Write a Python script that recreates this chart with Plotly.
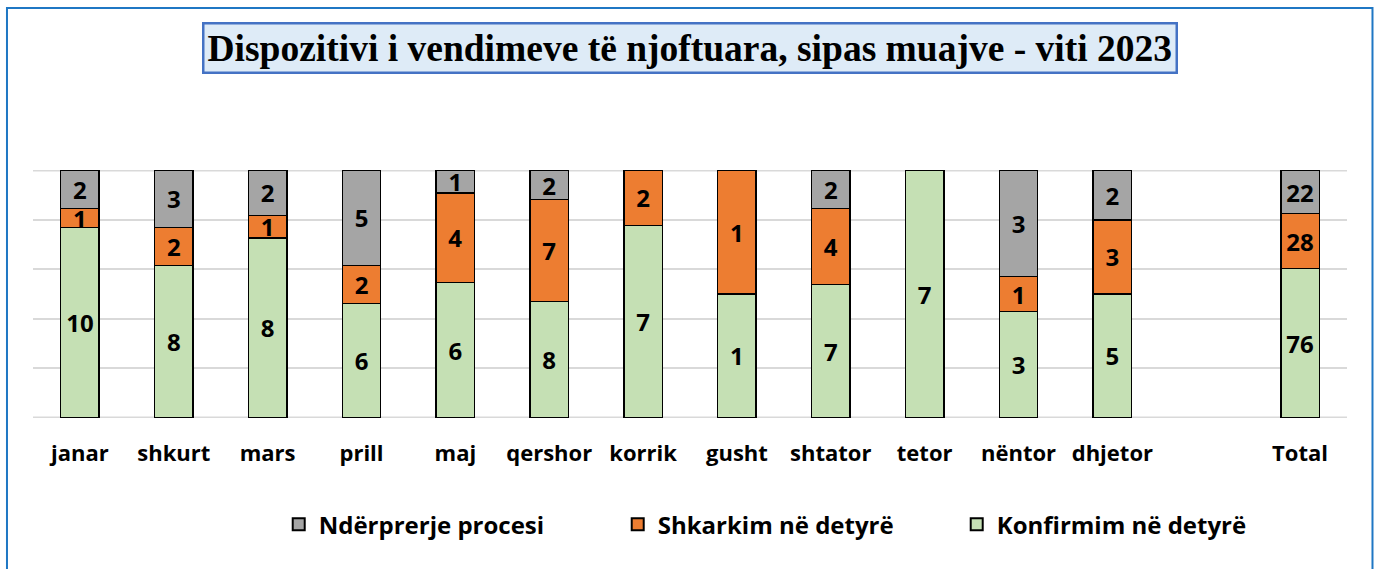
import plotly.graph_objects as go

categories = ["janar", "shkurt", "mars", "prill", "maj", "qershor", "korrik",
              "gusht", "shtator", "tetor", "nëntor", "dhjetor", " ", "Total"]
konfirmim = [10, 8, 8, 6, 6, 8, 7, 1, 7, 7, 3, 5, None, 76]
shkarkim = [1, 2, 1, 2, 4, 7, 2, 1, 4, 0, 1, 3, None, 28]
nderprerje = [2, 3, 2, 5, 1, 2, 0, 0, 2, 0, 3, 2, None, 22]

series = [
    ("Konfirmim në detyrë", konfirmim, "#C5E0B4"),
    ("Shkarkim në detyrë", shkarkim, "#ED7D31"),
    ("Ndërprerje procesi", nderprerje, "#A5A5A5"),
]

LBL_FONT = "'Open Sans', Lato, sans-serif"

fig = go.Figure()
for name, vals, color in series:
    fig.add_trace(go.Bar(
        x=categories, y=vals, name=name,
        marker=dict(color=color, line=dict(color="#000000", width=1.4)),
        text=[("" if (v is None or v == 0) else str(v)) for v in vals],
        textposition="inside", insidetextanchor="middle",
        textangle=0, constraintext="none",
        textfont=dict(family=LBL_FONT, size=24, color="#000000", weight="bold"),
        hoverinfo="skip",
    ))

fig.update_layout(
    barmode="stack", barnorm="percent", bargap=0.59,
    width=1377, height=569,
    margin=dict(l=33, r=30, t=170, b=151),
    paper_bgcolor="white", plot_bgcolor="white",
    showlegend=True,
    legend=dict(orientation="h", x=0.187, xanchor="left", y=-0.43, yanchor="middle",
                traceorder="reversed", entrywidth=294, entrywidthmode="pixels",
                font=dict(family=LBL_FONT, size=24, color="#000000", weight="bold"),
                itemsizing="constant"),
    xaxis=dict(type="category", categoryorder="array", categoryarray=categories,
               showgrid=False, showline=False, ticks="", ticklabelstandoff=20,
               tickfont=dict(family=LBL_FONT, size=22, color="#000000", weight="bold")),
    yaxis=dict(range=[-0.2, 100.2], tickvals=[0, 20, 40, 60, 80, 100], showticklabels=False,
               showgrid=True, gridcolor="#D9D9D9", gridwidth=2, zeroline=False,
               showline=False),
)

# edge gridlines (0% and 100%) that plotly omits at the plot-area border
for yv in (0, 100):
    fig.add_hline(y=yv, line=dict(color="#D9D9D9", width=2), layer="below")

fig.add_annotation(
    text="<b>Dispozitivi i vendimeve të njoftuara, sipas muajve - viti 2023</b>",
    xref="paper", yref="paper", x=0.5, y=1.492, xanchor="center", yanchor="middle",
    showarrow=False,
    font=dict(family="'Liberation Serif', 'Times New Roman', serif", size=37.5, color="#000000"),
    bgcolor="#DEEBF7", bordercolor="#4472C4", borderwidth=2.5, borderpad=3,
)

fig.add_shape(type="rect", xref="paper", yref="paper",
              x0=-0.0198, x1=1.0194, y0=-0.8, y1=1.653,
              line=dict(color="#1F77C4", width=2), fillcolor="rgba(0,0,0,0)", layer="below")

fig.write_html("out.html", config={"displayModeBar": False},
               post_script="document.body.style.margin='0';")
